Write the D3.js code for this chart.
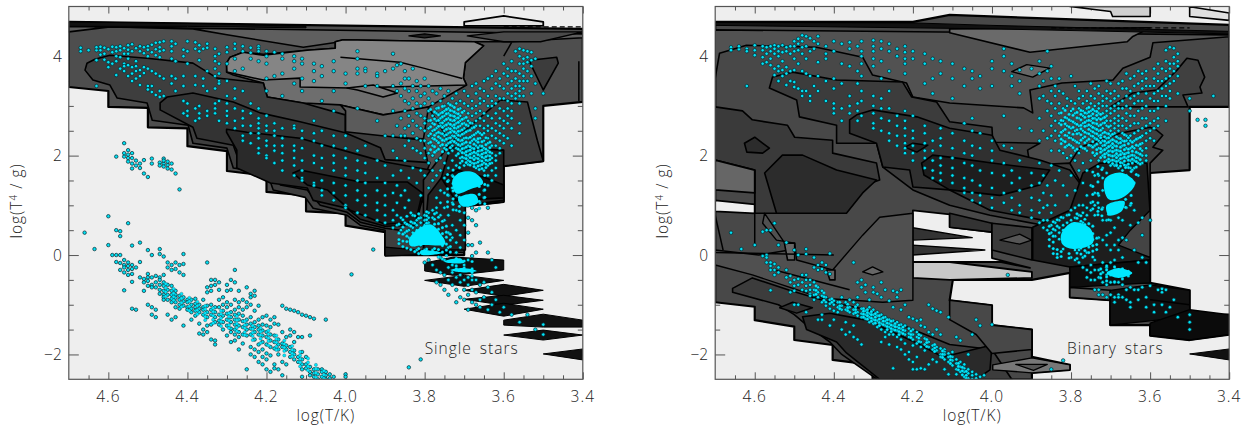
<!DOCTYPE html>
<html><head><meta charset="utf-8">
<script src="https://cdn.jsdelivr.net/npm/d3@7/dist/d3.min.js"></script>
<style>html,body{margin:0;background:#fff}svg{display:block}text{font-family:"Open Sans",sans-serif;font-weight:300;fill:#222}</style>
</head><body><svg id="c" width="1250" height="430"></svg>
<script>
const xTicks=[4.6,4.4,4.2,4.0,3.8,3.6,3.4];
const xMinor=[4.65,4.55,4.5,4.45,4.35,4.3,4.25,4.15,4.1,4.05,3.95,3.9,3.85,3.75,3.7,3.65,3.55,3.5,3.45];
const yTicks=[4,2,0,-2];
const yMinor=[4.5,3.5,3,2.5,1.5,1,0.5,-0.5,-1,-1.5];

/* left panel: filled density levels, [logT, log(T^4/g)] vertices, painted in order */
const singleLevels=[
{f:"#4e4e4e",w:2.2,p:[[4.7,4.69],[3.4,4.55],[3.4,3.08],[3.5,3],[3.5,1.89],[3.6,1.79],[3.6,1.07],[3.7,.98],[3.7,0],[3.9,0],[3.9,.46],[4,.59],[4,.84],[4.1,.88],[4.1,1.2],[4.2,1.27],[4.2,1.6],[4.3,1.69],[4.3,2.09],[4.4,2.19],[4.4,2.55],[4.5,2.57],[4.5,2.96],[4.6,2.98],[4.6,3.3],[4.7,3.38]]},
{f:"#e2e2e2",w:1.8,p:[[3.7,4.61],[3.7,4.69],[3.6,4.81],[3.5,4.69],[3.5,4.61]]},
{f:"#5f5f5f",w:1.6,p:[[4.7,4.6],[3.4,4.45],[3.4,4.37],[3.583,4.29],[3.684,4.29],[4.013,4.29],[4.107,4.18],[4.3,4.43],[4.386,4.55],[4.596,4.59],[4.7,4.49]]},
{f:"#6e6e6e",w:1.6,p:[[4.301,3.86],[4.292,3.98],[4.259,4.08],[4.208,4.04],[4.097,4.12],[4.026,4.16],[4.026,4.29],[4.006,4.33],[3.862,4.31],[3.674,4.29],[3.651,4.21],[3.697,3.87],[3.702,3.56],[3.694,3.42],[3.79,2.98],[3.85,2.86],[3.905,2.82],[4.013,3.02],[4.107,3.06],[4.198,3.18],[4.208,3.46],[4.284,3.62],[4.301,3.68]]},
{f:"#5b5b5b",w:1.6,p:[[4.013,3.02],[3.905,2.82],[3.79,2.98],[3.803,2.34],[4,2.41],[4,2.9]]},
{f:"#858585",w:1.6,p:[[4.301,3.86],[4.292,3.98],[4.259,4.08],[4.208,4.02],[4.097,4.12],[4.026,4.16],[4.026,4.29],[4.006,4.33],[3.862,4.31],[3.674,4.29],[3.651,4.21],[3.697,3.87],[3.702,3.56],[3.694,3.42],[3.99,3.36],[4.115,3.38],[4.115,3.56],[4.208,3.52],[4.3,3.68]]},
{f:"#777777",w:1.6,p:[[3.996,3.36],[3.93,3.42],[3.869,3.26],[3.905,3.18],[3.97,3.32]]},
{f:"#3e3e3e",w:1.6,p:[[4.659,3.72],[4.654,3.86],[4.634,3.94],[4.596,4.02],[4.502,3.96],[4.386,3.86],[4.325,3.56],[4.208,3.46],[4.198,3.18],[4.107,3.06],[4.001,2.82],[4.001,2.48],[3.803,2.31],[3.791,1.81],[3.803,1.51],[3.803,1.1],[3.71,.1],[3.9,.06],[3.9,.5],[3.963,.6],[3.996,.8],[4.082,.94],[4.102,1.16],[4.183,1.31],[4.198,1.65],[4.284,1.75],[4.3,2.15],[4.386,2.25],[4.398,2.61],[4.489,2.71],[4.502,3.06],[4.578,3.16],[4.596,3.42],[4.639,3.52]]},
{f:"#333333",w:1.6,p:[[4.469,3.06],[4.451,3.18],[4.386,3.26],[4.284,3.08],[4.216,2.86],[4.115,2.68],[4.001,2.46],[3.912,2.16],[3.9,1.92],[3.786,1.86],[3.803,1.51],[3.803,1.1],[3.862,.5],[3.9,.54],[3.963,.66],[3.996,.86],[4.064,1],[4.097,1.31],[4.165,1.41],[4.183,1.71],[4.266,1.81],[4.284,2.21],[4.376,2.35],[4.386,2.57],[4.469,2.92]]},
{f:"#2a2a2a",w:1.6,p:[[4.301,2.53],[4.249,2.47],[4.115,2.35],[3.963,2.01],[3.9,1.87],[3.786,1.71],[3.803,1.21],[3.823,.6],[3.9,.58],[3.963,.72],[3.996,.94],[4.082,1.1],[4.097,1.35],[4.19,1.45],[4.275,1.75],[4.275,2.11],[4.301,2.47]]},
{f:"#1c1c1c",w:1.6,p:[[4.133,1.65],[4.115,1.71],[3.963,1.47],[3.844,1.47],[3.806,1.25],[3.823,.66],[3.9,.62],[3.988,.9],[4.046,1.31],[4.097,1.41]]},
{f:"#3c3c3c",w:1.6,p:[[3.803,1.51],[3.735,2.25],[3.608,3.12],[3.54,3.08],[3.515,2.31],[3.5,1.89],[3.6,1.79],[3.6,1.07],[3.7,.98],[3.7,.05],[3.803,.1]]},
{f:"#3c3c3c",w:1.6,p:[[3.533,3.92],[3.466,3.98],[3.462,3.86],[3.5,3.32],[3.533,3.86]]},
{f:"#222222",w:1.6,p:[[3.758,1.55],[3.735,2.17],[3.6,2.11],[3.6,1.1],[3.697,1],[3.697,.1],[3.803,.1],[3.791,1.21]]},
{f:"#111111",w:1.6,p:[[3.758,1.55],[3.717,1.71],[3.651,1.57],[3.6,1.41],[3.6,1.15],[3.722,1.1]]},
{f:"#4a4a4a",w:1.4,p:[[3.692,4.41],[3.6,4.49],[3.4,4.49],[3.507,4.29],[3.6,4.29]]},
{f:"#222222",w:1.2,p:[[3.84,4.41],[3.8,4.45],[3.76,4.41],[3.8,4.37]]},
{f:"#111111",w:1,p:[[4.7,4.69],[4.4,4.66],[4.1,4.6],[4.1,4.57],[4.4,4.6],[4.7,4.6]]},
{f:"#1a1a1a",w:1.2,p:[[3.9,.16],[3.727,.04],[3.9,-.02]]},
{f:"#111111",w:1,p:[[3.8,-.26],[3.8,-.16],[3.727,-.04],[3.6,-.1],[3.6,-.3],[3.727,-.41],[3.8,-.32]]},
{f:"#111111",w:1,p:[[3.8,-.51],[3.7,-.41],[3.6,-.51],[3.7,-.63]]},
{f:"#111111",w:1,p:[[3.7,-.71],[3.6,-.59],[3.5,-.71],[3.6,-.83]]},
{f:"#111111",w:1,p:[[3.7,-.89],[3.6,-.81],[3.5,-.91],[3.6,-1.01]]},
{f:"#111111",w:1,p:[[3.7,-1.09],[3.6,-.97],[3.5,-1.09],[3.6,-1.23]]},
{f:"#111111",w:1,p:[[3.6,-1.31],[3.5,-1.19],[3.4,-1.31],[3.4,-1.45],[3.5,-1.45],[3.6,-1.41]]},
{f:"#111111",w:1,p:[[3.6,-1.61],[3.5,-1.51],[3.4,-1.61],[3.5,-1.71]]},
{f:"#111111",w:1,p:[[3.5,-1.99],[3.4,-1.89],[3.4,-2.11]]}
];
const singleLines=[
[[4.013,3.98],[3.862,3.88],[3.803,3.76],[3.705,3.55]],
[[3.6,4.0],[3.58,4.28]],
[[3.41,3.9],[3.41,3.1]],
[[3.735,2.25],[3.791,2.98]]
];
const singleDashed=[[3.6,4.59],[3.4,4.59]];
const singleBlobs=[
[[3.73,1.5],[3.71,1.66],[3.675,1.66],[3.652,1.45],[3.686,1.32],[3.72,1.24]],
[[3.715,1.14],[3.672,1.22],[3.665,1.05],[3.705,.98]],
[[3.84,.3],[3.825,.47],[3.786,.62],[3.757,.4],[3.748,.22],[3.803,.2],[3.835,.18]],
[[3.81,.09],[3.755,.04],[3.81,.01]],
[[3.75,-.13],[3.71,-.07],[3.7,-.15],[3.74,-.16]],
[[3.735,-.3],[3.702,-.26],[3.668,-.32],[3.702,-.35]]
];

/* right panel */
const binaryLevels=[
{f:"#484848",w:2.2,p:[[4.7,4.69],[4.2,4.69],[4.107,4.83],[3.4,4.63],[3.4,2.98],[3.5,2.98],[3.5,1.71],[3.6,1.65],[3.6,-.56],[3.5,-.71],[3.5,-1.24],[3.4,-1.2],[3.4,-1.6],[3.5,-1.71],[3.6,-1.62],[3.6,-1.41],[3.701,-1.41],[3.701,-.91],[3.803,-.85],[3.803,-.36],[3.899,-.5],[4.099,-.5],[4.107,-.91],[4,-1.01],[4,-1.41],[3.899,-1.5],[3.899,-2.05],[3.803,-2.21],[3.803,-2.31],[3.899,-2.37],[3.899,-2.5],[4.302,-2.5],[4.302,-2.21],[4.403,-2.11],[4.403,-1.81],[4.5,-1.71],[4.5,-1.44],[4.6,-1.31],[4.6,-1.04],[4.7,-.95]]},
{f:"#d0d0d0",w:1.6,p:[[3.803,5],[3.7,4.9],[3.695,4.8],[3.6,4.8],[3.6,5]]},
{f:"#e0e0e0",w:1.6,p:[[3.503,5],[3.4,4.87],[3.4,4.72],[3.5,4.8],[3.5,5]]},
{f:"#eeeeee",w:1.8,p:[[4.2,.9],[4.107,.82],[4.107,.56],[4,.46],[4,-.06],[3.904,-.26],[3.98,-.14],[4.2,-.14]]},
{f:"#eeeeee",w:1.8,p:[[4.7,1.1],[4.6,1.02],[4.6,.84],[4.7,.88]]},
{f:"#c8c8c8",w:1.8,p:[[4.2,-.14],[4.107,-.14],[3.899,-.34],[3.899,-.46],[4.107,-.5],[4.2,-.46]]},
{f:"#333333",w:1.4,p:[[4.2,.2],[4.018,.1],[4.2,0]]},
{f:"#333333",w:1.4,p:[[4.2,.55],[4.05,.35],[4.2,.3]]},
{f:"#525252",w:1.6,p:[[4.7,4.53],[3.4,4.43],[3.4,4.39],[3.593,4.27],[3.6,3.98],[3.669,3.76],[3.694,3.52],[3.823,3.46],[3.904,3.32],[3.897,2.86],[3.92,2.96],[4.107,3.06],[4.2,3.18],[4.216,3.46],[4.302,3.62],[4.327,3.98],[4.444,4.18],[4.621,4.22],[4.689,4.06],[4.7,3.56]]},
{f:"#6a6a6a",w:1.6,p:[[4.107,4.47],[3.904,4.08],[3.658,4.29],[3.645,4.39],[3.6,4.57],[4.107,4.55]]},
{f:"#666666",w:1.4,p:[[3.95,3.69],[3.912,3.83],[3.854,3.76],[3.897,3.58]]},
{f:"#3a3a3a",w:1.6,p:[[4.7,2.98],[4.631,2.9],[4.606,2.72],[4.517,2.61],[4.499,2.37],[4.403,2.31],[4.403,2.05],[4.292,1.85],[4.284,1.51],[4.335,1.37],[4.378,.84],[4.6,.84],[4.6,1.71],[4.7,1.91],[4.7,2.4]]},
{f:"#666666",w:1.8,p:[[4.7,1.91],[4.6,1.71],[4.6,1.25],[4.7,1.31]]},
{f:"#2c2c2c",w:1.6,p:[[4.575,1.65],[4.53,2.01],[4.479,2.01],[4.393,1.71],[4.292,1.51],[4.327,1.25],[4.368,.84],[4.545,.84]]},
{f:"#2c2c2c",w:1.6,p:[[4.626,2.25],[4.6,2.37],[4.563,2.15],[4.58,2.05],[4.62,2.07]]},
{f:"#505050",w:1.4,p:[[4.575,.84],[4.58,.64],[4.545,.3],[4.499,.24],[4.494,-.1],[4.403,-.3],[4.327,.4],[4.284,.76],[4.2,.84],[4.2,-.91],[4.276,-.95],[4.428,-.87],[4.606,-.4],[4.7,-.2],[4.7,.1],[4.59,0],[4.512,.1]]},
{f:"#3c3c3c",w:1.6,p:[[4.555,3.58],[4.504,3.68],[4.393,3.52],[4.226,3.48],[4.203,3.18],[4.14,3.08],[4.107,2.68],[4,2.57],[3.998,2.27],[3.879,2.25],[3.91,2.11],[3.904,1.81],[3.803,1.85],[3.765,1.31],[3.803,.5],[4.005,.8],[4.107,1],[4.2,1.31],[4.276,1.77],[4.292,2.25],[4.393,2.25],[4.393,2.61],[4.487,2.78],[4.494,3.12],[4.563,3.36]]},
{f:"#303030",w:1.6,p:[[4.36,2.72],[4.342,2.82],[4.302,2.92],[4.19,2.78],[4.107,2.55],[4,2.41],[3.98,2.11],[3.879,1.91],[3.803,1.71],[3.765,1.31],[3.803,.6],[4.005,.9],[4.107,1.31],[4.2,1.37],[4.208,1.71],[4.276,1.77],[4.292,2.25],[4.36,2.45]]},
{f:"#1e1e1e",w:1.6,p:[[4.178,1.85],[4.15,2.01],[4.107,1.97],[4,1.85],[3.854,1.71],[3.879,1.41],[3.98,1.2],[4.107,1.31],[4.172,1.61]]},
{f:"#222222",w:1.4,p:[[4.22,2.17],[4.2,2.25],[4.162,2.21],[4.19,2.07]]},
{f:"#3e3e3e",w:1.6,p:[[3.803,1.85],[3.777,2.17],[3.676,2.45],[3.6,2.57],[3.583,2.51],[3.568,2.41],[3.593,2.17],[3.568,2.11],[3.6,1.85],[3.6,-.56],[3.7,-.56],[3.803,-.3],[3.803,.5],[3.765,1.31]]},
{f:"#404040",w:1.6,p:[[3.701,2.98],[3.644,3.26],[3.583,3.32],[3.532,3.72],[3.507,3.96],[3.479,3.92],[3.462,3.58],[3.474,3.38],[3.469,3.26],[3.517,3.22],[3.504,2.98]]},
{f:"#1e1e1e",w:1.6,p:[[3.77,1.65],[3.727,1.85],[3.608,1.85],[3.6,.84],[3.6,-.1],[3.803,-.24],[3.897,-.1],[3.897,.56],[3.803,.9]]},
{f:"#444444",w:1.4,p:[[3.6,.9],[3.6,-.05],[3.68,.2],[3.65,.5]]},
{f:"#333333",w:1.6,p:[[4.107,.84],[4,.64],[4,.46],[4.107,.56]]},
{f:"#3a3a3a",w:1.6,p:[[4,.64],[3.899,.55],[3.899,-.1],[4,.1]]},
{f:"#555555",w:1.2,p:[[3.98,.3],[3.93,.42],[3.9,.3],[3.93,.22]]},
{f:"#0e0e0e",w:1.4,p:[[3.803,-.24],[3.6,-.1],[3.6,-.56],[3.803,-.65]]},
{f:"#555555",w:1.6,p:[[3.803,-.65],[3.701,-.71],[3.701,-.91],[3.803,-.85]]},
{f:"#111111",w:1.4,p:[[3.701,-.71],[3.6,-.6],[3.5,-.71],[3.5,-1.24],[3.701,-1.41]]},
{f:"#0b0b0b",w:1.4,p:[[3.6,-1.37],[3.5,-1.1],[3.4,-1.2],[3.4,-1.6],[3.5,-1.71],[3.6,-1.62]]},
{f:"#3c3c3c",w:1.6,p:[[4.656,-.67],[4.606,-.46],[4.512,-.71],[4.428,-.91],[4.317,-1.1],[4.2,-1.5],[4.107,-1.8],[4,-1.9],[3.95,-2.5],[4.29,-2.5],[4.38,-2],[4.41,-1.75],[4.47,-1.4],[4.5,-1.2],[4.54,-1],[4.656,-.75]]},
{f:"#2a2a2a",w:1.6,p:[[4.479,-1.24],[4.41,-1.17],[4.317,-1.31],[4.19,-1.77],[4.124,-2.05],[4,-1.81],[4.005,-2.31],[4.04,-2.5],[4.284,-2.5],[4.368,-1.97],[4.393,-1.75],[4.469,-1.5]]},
{f:"#303030",w:1.4,p:[[4.537,-1.06],[4.504,-.95],[4.454,-1.06],[4.494,-1.17]]},
{f:"#484848",w:1.6,p:[[4.107,-.91],[4,-1.01],[4,-1.41],[3.899,-1.5],[3.899,-1.9],[4,-1.98],[4.04,-1.6],[4.107,-1.3]]},
{f:"#777777",w:1.4,p:[[3.998,-2.21],[3.899,-2.07],[3.803,-2.21],[3.803,-2.31],[3.899,-2.37],[3.998,-2.31]]},
{f:"#555555",w:1.2,p:[[3.94,-2.2],[3.86,-2.2],[3.895,-2.32]]},
{f:"#666666",w:1.6,p:[[4.525,.24],[4.499,.24],[4.499,-.1],[4.517,-.1]]},
{f:"#666666",w:1.6,p:[[4.418,-.3],[4.397,-.3],[4.397,-.5],[4.41,-.5]]},
{f:"#666666",w:1.4,p:[[4.327,-.34],[4.302,-.24],[4.276,-.34],[4.302,-.4]]},
{f:"#111111",w:1,p:[[4.7,4.68],[4.2,4.67],[4,4.62],[3.4,4.5],[3.4,4.45],[4,4.55],[4.7,4.62]]},
{f:"#111111",w:1,p:[[3.5,-1.99],[3.4,-1.89],[3.4,-2.11]]}
];
const binaryLines=[
[[4.6,1.71],[4.6,.2]],
[[4.7,.8],[4.68,.1]],
[[4.7,.05],[4.4,.0]],
[[4.55,-.3],[4.36,-.7]],
[[3.6,-.9],[3.5,-1]]
];
const binaryDashed=[[3.85,4.57],[3.5,4.57]];
const binaryBlobs=[
[[3.715,1.52],[3.675,1.66],[3.638,1.45],[3.665,1.18],[3.705,1.12]],
[[3.71,1.0],[3.665,1.08],[3.672,.88],[3.705,.8]],
[[3.825,.42],[3.795,.66],[3.75,.52],[3.745,.24],[3.79,.12],[3.82,.2]],
[[3.71,-.36],[3.68,-.26],[3.645,-.36],[3.68,-.46]]
];

/* stars as columns: logT, then the log(T^4/g) values seen at that logT */
const singleLoop=[[4.58,[1.98]],[4.56,[2.25,1.98,2.05]],[4.55,[2.11,2.02,1.95,1.88]],[4.54,[2.05,1.84,1.74,1.95]],[4.53,[1.8,1.9]],[4.52,[1.84,1.75]],[4.51,[1.91,1.64]],[4.5,[1.57]],[4.49,[1.94,1.84]],[4.47,[1.86,1.8]],[4.46,[1.94,1.84,1.78,1.9]],[4.45,[1.81,1.88,1.74]],[4.44,[1.84,1.72]],[4.43,[1.64]],[4.42,[1.32]]];
const singleUpper=[[4.67,[4.17,4.1]],[4.65,[4.12]],[4.63,[4.12,3.92,4.18,3.4]],[4.62,[4.19,4.12,4.03]],[4.61,[4.17,4.05,3.93]],[4.6,[4.14,3.88,3.78]],[4.59,[4.19,4.08,3.85]],[4.58,[4.18,4.1,4,3.9,3.62]],[4.57,[4.2,4.12,3.98,3.75]],[4.56,[4.16,4.05,3.85,3.8,3.7]],[4.55,[4.22,4.13,4.05,3.95,3.82,3.6]],[4.54,[4.24,4.1,3.78,3.65,3.5]],[4.53,[4.16,3.9,3.8,3.7,3.55]],[4.52,[4.2,4.1,3.72,3.6,3.42]],[4.51,[4.18,4.06,3.78,3.66]],[4.5,[4.2,4.13,4,3.75,3.4,3.33]],[4.49,[4.23,4.08,3.7,3.4,3.28]],[4.48,[4.27,4.14,4.02,3.65,3.22]],[4.47,[4.28,4.18,4.1,3.98,3.6,3.3,3.18]],[4.46,[4.3,4.12,3.55,3.2]],[4.44,[4.3,4.2,4.1,3.95,3.6,3.45]],[4.43,[4.25,3.9,3.55,3.3]],[4.41,[4.13,4,3.6,3.4,3.1,2.85]],[4.4,[4.3,4.1,3.85,3.05,2.9,2.8]],[4.38,[4.28,4.15,3.6,3.42,2.95,2.7]],[4.37,[4.22,4.1,3.92,3,2.85,2.75]],[4.36,[4.15,3.55,3.4]],[4.35,[4.25,4.17,3.7,3.3,2.9,2.8]],[4.33,[4.15,4,3.9,3.75,3.6,3.35,3.05,2.95,2.85]],[4.32,[4.05,3.85,3.65,3.5,3.45,3.1,2.7]],[4.3,[4.18,4.08,3.85,3.5,3.2,3.05,2.9,2.8,2.65]],[4.28,[4.25,4.15,3.95,3.7,3.35,3.15,2.95,2.7,2.55]],[4.26,[4.2,4.1,3.75,3.3,2.9,2.75,2.6,2.4,2.3]],[4.24,[4.17,4.07,3.95,3.05,2.85,2.6,2.45,2.25]],[4.22,[4.2,4.15,4.1,3.9,2.95,2.75,2.65,2.55,2.45,2.35,2.15,2.05]],[4.2,[4.1,4,3.85,3.55,3.3,2.8,2.6,2.5,2.3,2.2,2,1.95]],[4.18,[4.08,3.6,2.65,2.5,2.4,2.2,2.1,1.85]],[4.16,[4.05,3.95,3.65,3.2,2.55,2.35,2.2,2.05,1.9,1.7]],[4.13,[4,3.9,3.75,3.45,2.6,2.55,2.2,2.1,1.95,1.8,1.6]],[4.11,[3.95,3.85,3.55,3.3,2.5,2.35,2.15,1.9,1.7,1.55,1.5]],[4.08,[3.85,3.7,3.5,2.7,2.45,2.3,2,1.85,1.45,1.4]],[4.06,[3.8,3.6,3.1,2.5,2.2,1.95,1.75,1.5,1.3,1.2]],[4.03,[3.9,3.7,3.3,2.9,2.4,2.2,2,1.85,1.7,1.45,1.25,1.1]],[4,[3.65,3.45,2.4,2.15,1.95,1.75,1.6,1.4,1.2,1,.95]],[3.97,[4.1,3.95,3.75,3.65,2.95,2.1,1.9,1.7,1.5,1.3,1.1,.85]],[3.95,[3.75,3.7,3.4,2.2,1.85,1.65,1.45,1.2,1,.8]],[3.92,[3.65,3.6,3.4,2.7,1.9,1.55,1.3,1.05,.9,.7]],[3.9,[3.7,2.4,1.8,1.45,1.2,1,.8,.65]]];
const singleGiants=[[3.88,[4.05,3.75,3.4,2.9,2.4,2.1,1.6,1.25,.9,.7,.55]],[3.87,[3.82,3.3,2.6,1.95,1.4,1.05,.8,.6]],[3.86,[3.85,3.45,3.2,2.75,2.4,1.7,1.2,.75,.5]],[3.85,[3.7,3.55,3.35,3.1,2.9,2.55,2.4,2.2,1.9,1.3,.95,.65,.45]],[3.84,[3.55,3.3,3.05,2.8,2.6,2.3,1.55,1.1,.6,.5,.35]],[3.83,[3.75,3.4,3.15,2.95,2.7,2.45,2.15,1.75,.8,.65,.55,.45,.3]],[3.82,[3.5,3.3,3.05,2.85,2.6,2.35,2.1,1.45,.7,.6,.5,.4,.25,.1]],[3.81,[3.4,3.2,3,2.8,2.55,2.3,2.05,1.7,1.2,.75,.65,.55,.45,.35,.2]],[3.8,[3.55,3.25,3.05,2.75,2.65,2.5,2.3,2.15,1.95,1.6,.8,.7,.6,.5,.4,.1,-.15]],[3.79,[3.4,3.15,2.9,2.7,2.55,2.4,2.25,2.05,1.85,1.35,.85,.75,.65,.05,-.1]],[3.78,[3.3,3.05,2.8,2.65,2.5,2.35,2.2,2,1.7,1.5,.9,.75,.1,-.2]],[3.77,[3.25,2.95,2.85,2.7,2.55,2.45,2.3,2.1,1.9,1.6,1.15,.95,.85,.05,-.3,-.55]],[3.76,[3.35,3.1,2.85,2.75,2.65,2.6,2.45,2.35,2.2,1.95,1.7,1.3,1.05,.8,-.05,-.35,-.6]],[3.75,[3.2,3,2.9,2.8,2.7,2.6,2.5,2.4,2.3,2.15,1.85,1.55,1.25,.95,.7,-.1,-.4,-.7]],[3.74,[3.3,3.05,2.95,2.85,2.75,2.65,2.55,2.45,2.35,2.25,2.05,1.75,1.5,1.2,.8,.45,.15,-.25,-.5,-.8]],[3.73,[3.15,3,2.9,2.8,2.7,2.6,2.5,2.4,2.3,2.2,2.1,1.9,1.6,1.35,1.05,.6,.35,-.2,-.35,-.6]],[3.72,[3.25,3.05,2.85,2.75,2.65,2.55,2.45,2.35,2.25,2.15,2,1.8,1.5,1.2,.9,.5,.25,.05,-.3,-.45,-.7,-.95]],[3.71,[3.1,2.95,2.8,2.7,2.6,2.5,2.4,2.3,2.2,2.1,1.95,1.85,1.4,1.1,.7,.4,.15,-.1,-.4,-.55,-.85]],[3.7,[3.3,3.05,2.9,2.75,2.65,2.55,2.45,2.35,2.25,2.15,2.05,1.95,1.8,1.1,.85,.6,.3,-.2,-.5,-.7,-.9]],[3.69,[3.2,3,2.85,2.7,2.6,2.5,2.35,2.2,2.1,2,1.9,1.82,1,.75,.45,.2,-.1,-.45,-.6,-.8,-1.1]],[3.68,[3.4,3.1,2.95,2.8,2.65,2.55,2.4,2.3,2.15,2.05,1.95,1.85,.95,.7,.2,-.02,-.5,-.7,-.95]],[3.67,[3.45,3.25,3,2.85,2.7,2.6,2.45,2.3,2.2,2.05,1.95,1.85,1.75,.9,.6,.05,-.5,-.75,-1]],[3.66,[3.35,3.15,3.05,2.9,2.75,2.6,2.45,2.35,2.2,2.1,2,1.9,1.8,1.05,.25,-.6,-.9,-1.05]],[3.65,[3.5,3.3,3.1,2.85,2.7,2.55,2.45,2.3,2.15,2.05,1.95,1.85,1.7,1.3,1.15,-.55,-.85]],[3.64,[3.55,3.2,3,2.8,2.6,2.5,2.35,2.25,2.1,2,1.9,1.8,1.6,1.4,.95,.05,-.65,-1.1]],[3.63,[3.6,3.35,3.1,3,2.75,2.55,2.4,2.2,2.05,1.95,1.85,1.7,1.5,-.1,-.75,-1]],[3.62,[3.7,3.45,3.2,3.05,2.85,2.65,2.5,2.35,2.2,2,1.9,1.75,1.6,-.25,-.9]],[3.61,[3.55,3.4,3.15,2.95,2.75,2.6,2.45,2.3,2.15,2.05,-1.15]],[3.6,[3.85,3.65,3.35,3.15,2.9,2.7,2.55,2.4,2.25,-1.05]],[3.59,[3.75,3.6,3.45,3.25,3.1,2.95,2.8,2.65,2.35]],[3.58,[3.9,3.7,3.5,3.35,3.2,3.05,2.9,2.75,2.55,2.2,-1.2]],[3.57,[4.1,3.7,3.55,3.4,3.25,3.15]],[3.56,[4.15,4,3.85,3.65,3.5,3.4,3.3,3.2,3.05,2.65,2.45,-1.35]],[3.55,[4.12,3.95,3.85,3.75,3.6,3.5,3.35,3.2]],[3.54,[4.1,3.98,3.88,3.7,3.5,-1.2]],[3.53,[4.08,3.92,3.8,3.6,3.25]],[3.52,[3.95,3.45,2.95,2.75,-1.5]],[3.5,[3.25,-1.4,-1.6]]];
const singleMain=[[4.66,[.45]],[4.635,[.12]],[4.6,[.78,.2]],[4.59,[0]],[4.58,[.5,-.14,0]],[4.57,[.48,.38,0,-.16,-.3]],[4.56,[-.1,-.2,-.25,-.35,-.71]],[4.55,[.64,-.15,-.22,-.3,-.4]],[4.54,[.19,-.2,-.28,-.38,-.54,-1.08]],[4.53,[-.25,-1.1]],[4.52,[.25,-.14,-.45]],[4.51,[-.48,-.55,-.72]],[4.5,[.1,-.38,-.45,-.52,-.62,-1]],[4.49,[0,-.45,-.6,-.65,-1.05,-1.2]],[4.48,[-.42,-.55,-.65,-1.1,-1.25]],[4.47,[.12,.02,-.45,-.5,-.6,-.7,-.78]],[4.46,[-.03,-.4,-.55,-.62,-.72,-.8,-.85,-.9]],[4.45,[-.15,-.25,-.6,-.7,-.8,-.9,-1.2]],[4.44,[-.2,-.3,-.62,-.72,-.8,-.88,-.95,-1.3]],[4.43,[-.15,-.28,-.72,-.8,-.86,-.95,-1.05,-1.25]],[4.42,[-.2,-.35,-.82,-.9,-1,-1.08]],[4.41,[.02,-.18,-.4,-.85,-.93,-1.02,-1.42]],[4.4,[-.9,-.95,-1.05,-1.1]],[4.39,[-.9,-1,-1.08,-1.15,-1.3]],[4.38,[-.88,-.98,-1.05,-1.12,-1.22]],[4.37,[-1,-1.08,-1.15,-1.38,-1.58]],[4.36,[-.9,-1.05,-1.1,-1.2,-1.5,-1.6]],[4.35,[-.15,-.65,-.75,-1.02,-1.15,-1.25,-1.42,-1.55]],[4.34,[-.5,-.62,-.72,-1,-1.1,-1.2,-1.4,-1.7]],[4.33,[-.5,-.6,-1.05,-1.15,-1.25,-1.35,-1.72,-1.8]],[4.32,[-.55,-.7,-.9,-1.05,-1.2,-1.32,-1.4]],[4.31,[-.85,-1,-1.12,-1.22,-1.35,-1.5]],[4.3,[-.6,-.72,-.95,-1.05,-1.18,-1.3,-1.42,-1.62]],[4.29,[-.5,-.7,-1,-1.15,-1.25,-1.35,-1.48,-1.55,-1.75]],[4.28,[-.3,-.55,-.9,-1.1,-1.2,-1.3,-1.4,-1.5,-1.6,-1.72]],[4.27,[-.72,-.95,-1.05,-1.18,-1.3,-1.42,-1.55,-1.65,-1.9]],[4.26,[-.9,-1.1,-1.22,-1.33,-1.45,-1.6,-1.78]],[4.25,[-.65,-.95,-1.05,-1.3,-1.4,-1.5,-1.62,-2.3]],[4.24,[-.78,-.85,-1,-1.25,-1.38,-1.48,-1.6,-1.85,-2]],[4.23,[-.72,-.82,-1.12,-1.35,-1.45,-1.55,-1.7,-1.9,-2.05]],[4.22,[-1.02,-1.3,-1.42,-1.5,-1.6,-1.8,-1.95,-2.15]],[4.21,[-1.25,-1.4,-1.52,-1.62,-1.75,-1.9,-2.05,-2.2]],[4.2,[-1.22,-1.42,-1.55,-1.65,-1.8,-1.98,-2.1,-2.3]],[4.19,[-1.3,-1.45,-1.6,-1.72,-1.85,-2.02,-2.35]],[4.18,[-1.25,-1.38,-1.62,-1.75,-1.88,-2.2,-2.28]],[4.17,[-1.4,-1.7,-1.8,-1.9,-2,-2.3]],[4.16,[-1.02,-1.55,-1.78,-1.85,-2.15,-2.42]],[4.15,[-1.08,-1.65,-1.82,-1.9,-2.2]],[4.14,[-1.1,-1.5,-1.62,-1.85,-1.95,-2.05]],[4.13,[-1.12,-1.55,-1.75,-1.92,-2,-2.1]],[4.12,[-1.15,-1.65,-2.05,-2.15]],[4.11,[-1.2,-1.65,-1.95,-2.1,-2.2,-2.3,-2.45]],[4.1,[-1.22,-2.05,-2.2,-2.28]],[4.09,[-1.25,-1.62,-2.25,-2.35,-2.42]],[4.08,[-1.28,-2.3,-2.38,-2.45]],[4.07,[-2.3,-2.4,-2.5]],[4.06,[-2.3,-2.35,-2.45]],[4.05,[-1.3,-2.35,-2.42,-2.5]],[4.04,[-2.4,-2.48]],[4.03,[-2.45]],[4,[-2.4,-2.45]],[3.985,[-.39]],[3.93,[.11]],[3.84,[-2.26]],[3.81,[-2.1]]];
const singleDense=[[3.785,[2.93,2.71,2.58,2.44,2.27,2.12]],[3.775,[2.88,2.74,2.63,2.52,2.41,2.33,2.18,2.07]],[3.765,[2.96,2.82,2.71,2.59,2.47,2.38,2.26,2.13]],[3.755,[2.99,2.87,2.78,2.66,2.57,2.44,2.31,2.22,2.08]],[3.745,[2.93,2.84,2.73,2.62,2.53,2.42,2.33,2.21,2.12]],[3.735,[3.02,2.91,2.81,2.72,2.63,2.54,2.47,2.36,2.27,2.16]],[3.725,[2.97,2.88,2.79,2.71,2.62,2.56,2.48,2.39,2.28]],[3.715,[2.93,2.84,2.76,2.67,2.58,2.49,2.41,2.32,2.22,2.13,2.04]],[3.705,[2.87,2.73,2.64,2.52,2.43,2.31,2.23,2.14,2.06,1.97,1.89]],[3.695,[2.77,2.62,2.48,2.36,2.27,2.17,2.08,2.01,1.94,1.86]],[3.685,[2.66,2.51,2.37,2.26,2.18,2.11,2.03,1.96,1.88,1.81]],[3.675,[2.57,2.42,2.33,2.23,2.14,2.07,1.99,1.92,1.84,1.78]],[3.665,[2.48,2.34,2.27,2.16,2.09,2.02,1.94,1.87,1.79]],[3.655,[2.42,2.28,2.19,2.11,2.03,1.97,1.89,1.82,1.74]],[3.645,[2.36,2.22,2.13,2.06,1.98,1.91,1.83,1.76]],[3.635,[2.27,2.16,2.07,1.99,1.92,1.84]],[3.742,[1.62,1.48,1.33,1.21,1.07,.97]],[3.728,[1.71,1.58,1.44,1.29,1.13,1.02,.91]],[3.712,[1.76,1.62,1.38,1.16,.98,.88]],[3.662,[1.72,1.38,1.22,1.08,.94]],[3.648,[1.6,1.42,1.31,1.16,1.03]],[3.865,[.62,.44,.31,.23]],[3.855,[.71,.56,.42,.28,.17]],[3.845,[.78,.62,.48,.38,.27,.14]],[3.835,[.85,.67,.58,.33,.22,.11]],[3.825,[.79,.64,.31,.2,.07]],[3.815,[.83,.74,.13,.03]],[3.795,[.87,.79,.71,.64,.12]],[3.775,[.83,.72,.62,.44,.28,.13]],[3.765,[.76,.63,.52,.38,.24,.11,-.04]],[3.755,[.68,.55,.43,.31,.19,.06,-.08]],[3.745,[.58,.46,.36,.22,.1,-.01]],[3.735,[.42,.3,.17,.06,-.12]],[3.72,[-.07,-.22,-.28]],[3.7,[-.12,-.26,-.31]],[3.68,[-.13,-.28,-.42,-.35]],[4.455,[-.58,-.66,-.74,-.83]],[4.435,[-.68,-.77,-.84,-.91]],[4.415,[-.78,-.87,-.96,-1.04]],[4.395,[-.86,-.93,-1.03,-1.12]],[4.375,[-.94,-1.02,-1.11,-1.19]],[4.355,[-1.02,-1.09,-1.17,-1.24,-1.31]],[4.335,[-1.07,-1.14,-1.22,-1.3,-1.37]],[4.315,[-1.12,-1.19,-1.27,-1.34,-1.43]],[4.295,[-1.17,-1.24,-1.32,-1.41,-1.47]],[4.275,[-1.23,-1.31,-1.38,-1.46,-1.53]],[4.255,[-1.33,-1.41,-1.47,-1.55,-1.61]],[4.235,[-1.42,-1.49,-1.56,-1.63,-1.71]],[4.215,[-1.47,-1.54,-1.61,-1.68,-1.77]],[4.195,[-1.52,-1.59,-1.67,-1.73,-1.82]],[4.175,[-1.62,-1.69,-1.76,-1.84,-1.91]],[4.155,[-1.72,-1.79,-1.86,-1.93,-2.02]],[4.135,[-1.83,-1.91,-1.98,-2.04]],[4.115,[-1.95,-2.02,-2.09,-2.16,-2.24]],[4.095,[-2.08,-2.16,-2.24,-2.32]],[4.075,[-2.21,-2.29,-2.37,-2.46]],[4.055,[-2.33,-2.41,-2.48]]];

const binaryUpper=[[4.66,[4.18,4.12]],[4.64,[4.14,4.2]],[4.62,[4.15,3.4,4.1]],[4.6,[4.22,4.12,4.02]],[4.58,[4.2,4.12,3.98,3.85]],[4.57,[4.18,4.05,3.88]],[4.56,[4.2,4.1,3.95,3.82]],[4.55,[4.22,4.15,4.05,3.75,3.62]],[4.54,[4.2,4.1,4,3.8,3.7,3.5]],[4.53,[4.22,4.08,3.9,3.72,3.6]],[4.52,[4.18,4.1,3.78,3.65,3.42]],[4.51,[4.2,4.05,3.7,3.5]],[4.5,[4.3,4.2,4.1,3.95,3.72,3.48,3.38]],[4.49,[4.35,4.25,4.12,3.85,3.35]],[4.48,[4.42,4.3,4.18,4.05,3.7,3.3,3.2]],[4.47,[4.4,4.2,3.95,3.65,3.3]],[4.46,[4.36,4.1,3.6,3.2,3.1]],[4.45,[4.3,4.15,3.4]],[4.44,[4.4,4.25,3.88,3.6,3.3]],[4.42,[4.2,4.05,3.95,3.5,3.1]],[4.4,[4.3,4.1,3.55,3.35,3.05,2.95,2.85]],[4.38,[4.25,3.85,3.45,2.95,2.7]],[4.36,[4.28,4.15,3.8,3.2,3,2.85]],[4.34,[4.2,3.7,3.45,3.05,2.9,2.7]],[4.33,[4.3,4.1,4,3.85,3.6,3.3,3.1,2.8]],[4.3,[4.32,4.2,4.1,3.95,3.8,3.2,3,2.85,2.65,2.55]],[4.28,[4.3,4.15,3.9,3.55,3.15,2.95,2.75,2.5]],[4.26,[4.25,4.1,3.7,3.3,2.95,2.7,2.45,2.3]],[4.24,[4.15,4,2.8,2.6,2.4,2.2]],[4.22,[4.2,4.08,3.95,3.85,3.65,2.9,2.7,2.55,2.4,2.25,2.15,2.05]],[4.2,[4.1,3.95,2.8,2.5,2.35,2.2,2.05,1.9]],[4.17,[4.05,3.85,3.45,2.6,2.45,2.25,2.1,1.95,1.75]],[4.15,[3.95,3.55,3.25,2.3,2.1,1.9,1.7,1.55]],[4.13,[3.9,3.65,2.55,2.35,2.2,1.95,1.8,1.65,1.5]],[4.1,[3.85,3.55,3.15,2.45,2.15,1.95,1.75,1.6,1.45]],[4.07,[3.75,3.4,2.65,2.3,2.05,1.85,1.55,1.35,1.25]],[4.05,[3.7,3.55,2.75,2.5,2.2,2,1.8,1.5,1.25,1.1]],[4.03,[3.6,3.35,2.45,2.15,1.7,1.4,1.2,1.05]],[4,[3.9,3.75,3.4,2.3,2.1,1.9,1.65,1.35,1.15,.95]],[3.97,[4.15,4,3.7,2.8,2.2,1.85,1.6,1.25,1.05]],[3.95,[3.85,3.6,3.4,2.15,1.7,1.45,1.15,.9]],[3.93,[3.72,3.5,3.25,2.55,1.9,1.55,1.3,1,.85]],[3.9,[3.75,2.5,1.65,1.4,1.15,.9,.75]]];
const binaryGiants=[[3.88,[3.9,3.65,3.4,3.15,2.75,2.3,1.85,1.45,1.1,.85,.65]],[3.87,[3.5,3.2,2.5,1.6,1.25,.95,.7,.55]],[3.86,[4.1,3.7,3.1,2.9,2.35,1.4,1,.7,.5]],[3.85,[3.8,3.55,3.3,3.05,2.8,2.6,2.4,2.1,1.8,1.2,.85,.6,.45]],[3.84,[3.4,3.2,2.95,2.7,2.5,2.3,1.5,1,.65,.5,.38]],[3.83,[3.55,3.3,3.05,2.85,2.65,2.4,2.1,1.7,.7,.55,.45,.32]],[3.82,[3.25,2.95,2.7,2.5,2.3,2.05,1.4,.75,.6,.5,.38,.25,.12]],[3.81,[3.15,3,2.75,2.6,2.4,2.2,1.95,1.2,.8,.65,.5,.35,.2]],[3.8,[3.6,3.1,2.9,2.7,2.55,2.35,2.2,2,1.6,.9,.7,.55,.4,.2,-.05]],[3.79,[3.4,3.05,2.85,2.65,2.5,2.3,2.1,1.9,1.3,.95,.75,.6,.45,.1,-.1]],[3.78,[3.3,3.15,2.95,2.75,2.6,2.45,2.25,2.05,1.7,1,.8,.6,.1,-.15]],[3.77,[3.2,3.05,2.9,2.8,2.65,2.5,2.35,2.15,1.85,1.45,1,.85,.65,-.05,-.25]],[3.76,[3.3,3.1,2.95,2.85,2.7,2.6,2.45,2.3,2.1,1.7,1.2,.95,.8,.05,-.3,-.45]],[3.75,[3.45,3.2,3.05,2.9,2.8,2.7,2.6,2.5,2.4,2.2,1.9,1.4,1.05,.9,-.2,-.35,-.5]],[3.74,[3.35,3.15,3,2.9,2.75,2.65,2.55,2.45,2.35,2.2,2,1.6,1.25,1,.8,-.1,-.3,-.5,-.7]],[3.73,[3.4,3.25,3.05,2.95,2.85,2.75,2.6,2.5,2.4,2.3,2.15,1.9,1.6,1.2,.95,.35,-.3,-.45,-.7,-.8]],[3.72,[3.2,3.1,3,2.85,2.75,2.65,2.55,2.45,2.3,2.2,2.1,2,1.75,1.55,1.3,.95,.7,.3,-.15,-.35,-.55,-.8]],[3.71,[3.5,3.3,3.15,3,2.9,2.8,2.7,2.6,2.45,2.35,2.25,2.15,2.05,1.9,1.65,.7,.4,.2,-.25,-.4,-.6,-.85]],[3.7,[3.45,3.25,3.1,2.95,2.85,2.7,2.6,2.5,2.4,2.3,2.2,2.1,2,1.9,1.8,.7,.45,.1,-.15,-.4,-.55,-.8]],[3.69,[3.3,3.15,3,2.9,2.75,2.65,2.55,2.45,2.3,2.2,2.1,2,1.9,1.8,.9,.55,.2,-.1,-.55,-.85,-.95]],[3.68,[3.45,3.2,3.05,2.95,2.8,2.7,2.6,2.5,2.35,2.25,2.1,2,1.9,1.75,.75,.3,.1,-.55,-.8,-.85]],[3.67,[3.5,3.35,3.1,2.95,2.75,2.6,2.45,2.3,2.2,2.05,1.95,1.85,1.7,.7,.35,-.05,-.6,-.85]],[3.66,[3.65,3.35,3.2,3,2.85,2.7,2.55,2.4,2.3,2.15,2.05,1.95,1.8,1.6,.95,.3,-.7,-.9]],[3.65,[3.55,3.3,3.15,2.95,2.8,2.6,2.4,2.3,2.15,2,1.9,1.75,1.5,1,.6,-.65,-.95,-1.05]],[3.64,[3.6,3.4,3.2,3.05,2.8,2.65,2.45,2.3,2.15,2,1.9,1.75,1.45,.9,.1,-.7]],[3.63,[3.7,3.45,3.25,3.1,2.9,2.65,2.5,2.35,2.2,2.05,1.95,1.85,1.6,.65,-.15,-.7,-.9]],[3.62,[3.65,3.5,3.35,3.1,2.95,2.75,2.55,2.4,2.25,2.1,2,1.85,.75,.4,-.05,-.65]],[3.61,[3.7,3.55,3.4,3.25,3,2.75,2.6,2.45,2.3,2.15,2,1.9,-.15,-.85,-1.05]],[3.6,[3.4,3.15,2.9,2.65,2.5,2.35,.7,-.62]],[3.59,[3.75,3.55,3.4,3.25,3.1,2.9,2.7,2.55,2.3,-1.0,-1.15]],[3.58,[3.85,3.65,3.5,3.3,3.1,2.95,2.75,2.6,-.7]],[3.57,[3.75,3.5,3.35,3.2,-.68,-.75,-1]],[3.56,[4.12,3.9,3.7,3.55,3.4,3.2,3,2.7,-.7,-1.15]],[3.55,[4.18,3.85,3.75,3.6,3.45,3.3,3.15,-1.05]],[3.54,[4.16,3.98,3.85,3.7,3.5,-.9]],[3.53,[4.05,3.9,3.8,3.6,3.25,-1.25]],[3.5,[3.15,2.9,-1.2,-1.35,-1.5]],[3.48,[2.72]],[3.46,[2.72,2.6]],[3.44,[3.2]]];
const binaryMain=[[4.66,[.45]],[4.634,[.12]],[4.6,[.2]],[4.58,[.47,-.02]],[4.57,[0,.5,-.05,-.15]],[4.56,[-.15,-.22,-.3,-.71,.5]],[4.55,[.64,-.18,-.3,-.4]],[4.54,[.2,-.25,-.35]],[4.52,[-.3,-.45,.25]],[4.51,[-.42,-.55,-.75]],[4.5,[.1,-.5,-.62,-.72,-1.0]],[4.49,[0,-.48,-.6,-1.0]],[4.48,[-.4,-.55,-.7]],[4.47,[.12,.02,-.4,-.5,-.62,-.72,-1.15]],[4.46,[-.5,-.6,-.7,-.78,-.82]],[4.45,[-.05,-.25,-.55,-.7,-.8,-.9]],[4.44,[-.2,-.3,-.65,-.75,-.85,-1.3]],[4.43,[-.15,-.28,-.72,-.82,-.95,-1.3,-1.2]],[4.42,[-.2,-.35,-.85,-.95,-1.02]],[4.41,[.03,-.38,-.9,-.98,-1.08,-1.42]],[4.4,[-.92,-1,-1.12,-1.3]],[4.39,[-.95,-1.05,-1.15]],[4.38,[-.85,-1.02,-1.1,-1.5]],[4.37,[-.95,-1.1,-1.35,-1.6]],[4.36,[-.9,-1.05,-1.15,-1.55]],[4.35,[-.15,-.95,-1.1,-1.18,-1.42,-1.65]],[4.34,[-.55,-.85,-1,-1.15,-1.22,-1.7]],[4.33,[-.5,-.65,-1.08,-1.18,-1.25,-1.8]],[4.32,[-.6,-.75,-1.12,-1.2,-1.28]],[4.31,[-.9,-1.05,-1.18,-1.25,-1.35]],[4.3,[-.65,-.75,-1.1,-1.2,-1.3,-1.38]],[4.29,[-.78,-1.15,-1.22,-1.32,-1.45]],[4.28,[-.55,-.85,-1.2,-1.28,-1.38,-1.5,-1.75]],[4.27,[-.7,-1.25,-1.33,-1.42,-1.55,-1.65]],[4.26,[-.92,-1.3,-1.38,-1.45,-1.6,-1.8]],[4.25,[-.72,-1.05,-1.32,-1.42,-1.5,-1.6,-2.28]],[4.24,[-.75,-.85,-1.35,-1.45,-1.52,-1.65,-1.85]],[4.23,[-.7,-1.1,-1.4,-1.48,-1.56,-1.7,-1.9]],[4.22,[-1,-1.42,-1.52,-1.6,-1.78,-2]],[4.21,[-1.25,-1.48,-1.58,-1.65,-1.95,-2.1]],[4.2,[-1.28,-1.5,-1.6,-1.7,-1.82,-2.15,-2.3]],[4.19,[-1.32,-1.55,-1.65,-1.78,-2.05,-2.3]],[4.18,[-1.3,-1.42,-1.62,-1.75,-1.85,-2.28]],[4.17,[-1.45,-1.68,-1.8,-1.92,-2.3]],[4.16,[-1,-1.55,-1.75,-1.85,-2.2]],[4.15,[-1.08,-1.6,-1.82,-1.9,-2.1]],[4.14,[-1.12,-1.5,-1.85,-1.92,-2.15]],[4.13,[-1.15,-1.6,-1.88,-2,-2.05]],[4.12,[-1.9,-1.95,-2,-2.1,-2.3]],[4.11,[-1.25,-1.98,-2.05,-2.15,-2.4]],[4.1,[-1.95,-2.05,-2.12,-2.22]],[4.09,[-1.65,-2.1,-2.18,-2.3,-2.4]],[4.08,[-1.72,-2.15,-2.25,-2.35]],[4.07,[-2.2,-2.28,-2.35,-2.45]],[4.06,[-2,-2.3,-2.38,-2.48]],[4.05,[-1.6,-2.35,-2.42,-2.5]],[4.04,[-1.3,-2.4,-2.48]],[4.03,[-1.42,-2.45]],[4.02,[-2.42]],[4,[-1.4]],[3.96,[-.4]],[3.85,[-2.3]],[3.82,[-2.12]]];
const binaryDense=[[3.825,[2.86,2.71,2.62,2.47,2.33,2.24]],[3.815,[2.91,2.77,2.64,2.53,2.41,2.28,2.17]],[3.805,[2.83,2.72,2.58,2.46,2.36,2.22]],[3.795,[2.94,2.81,2.68,2.57,2.43,2.32,2.16]],[3.785,[2.87,2.76,2.63,2.52,2.44,2.27,2.13]],[3.775,[2.91,2.83,2.72,2.61,2.54,2.42,2.31,2.18]],[3.765,[2.86,2.77,2.67,2.59,2.47,2.38,2.26,2.14]],[3.755,[2.97,2.88,2.79,2.71,2.62,2.53,2.44,2.33,2.21]],[3.745,[2.93,2.84,2.75,2.66,2.57,2.48,2.39,2.28,2.17,2.06]],[3.735,[2.89,2.81,2.72,2.64,2.53,2.44,2.33,2.23,2.12,2.04]],[3.725,[2.83,2.73,2.62,2.51,2.41,2.36,2.26,2.14,2.07,1.96]],[3.715,[2.77,2.66,2.47,2.38,2.29,2.21,2.12,2.03,1.97,1.88]],[3.705,[2.58,2.44,2.36,2.27,2.18,2.09,2.01,1.93,1.87]],[3.695,[2.43,2.32,2.24,2.16,2.08,1.99,1.91,1.84]],[3.685,[2.38,2.28,2.19,2.11,2.04,1.96,1.88,1.82]],[3.675,[2.34,2.26,2.17,2.09,2.02,1.94,1.86,1.79]],[3.665,[2.42,2.29,2.21,2.12,2.03,1.97,1.89,1.81]],[3.655,[2.36,2.24,2.13,2.06,1.98,1.91,1.83,1.76]],[3.645,[2.27,2.18,2.09,2.01,1.93,1.85,1.71]],[3.635,[2.33,2.21,2.07,1.96,1.88,1.77,1.62]],[3.625,[2.37,2.23,2.14,2.03,1.92,1.83]],[3.745,[1.67,1.38,1.22,1.07,.93]],[3.732,[1.78,1.63,1.47,1.24,1.05,.88,.81]],[3.722,[1.72,.92,.79]],[3.705,[.82,.71]],[3.685,[1.8,.98,.87]],[3.662,[1.76,1.48,1.29,1.12,.96]],[3.648,[1.68,1.52,1.38,1.2,1.04]],[3.855,[.58,.43,.31,.18]],[3.845,[.67,.52,.38,.26,.13,.03]],[3.835,[.71,.58,.11,.02,-.05]],[3.825,[.76,.07,-.03]],[3.805,[.81,.03,-.06]],[3.785,[.83,.74,.04,-.07]],[3.775,[.79,.68,.56,.41,.27,.14,.02]],[3.765,[.72,.61,.48,.36,.22,.09,-.02]],[3.755,[.63,.52,.41,.28,.16,.05]],[3.745,[.58,.43,.31,.19,.08,-.04]],[3.735,[.34,.21,.11]],[3.725,[-.28,-.38,-.46]],[3.71,[-.22,-.3,-.52,-.44]],[3.69,[-.24,-.54]],[3.67,[-.28,-.37,-.48]],[3.655,[-.33,-.42]],[4.445,[-.62,-.71,-.79]],[4.425,[-.76,-.84,-.91]],[4.405,[-.88,-.95]],[4.385,[-.95,-1.02,-1.08]],[4.365,[-.99,-1.06,-1.12]],[4.345,[-1.04,-1.1,-1.16]],[4.325,[-1.08,-1.13,-1.19,-1.25]],[4.315,[-1.1,-1.16,-1.22,-1.29]],[4.305,[-1.14,-1.2,-1.27,-1.33]],[4.295,[-1.18,-1.25,-1.31,-1.37]],[4.285,[-1.22,-1.29,-1.36,-1.42]],[4.275,[-1.26,-1.33,-1.4]],[4.265,[-1.3,-1.37,-1.44,-1.5]],[4.255,[-1.33,-1.41,-1.48,-1.54]],[4.245,[-1.38,-1.44,-1.51]],[4.235,[-1.41,-1.47,-1.54,-1.6]],[4.225,[-1.45,-1.51,-1.58]],[4.205,[-1.53,-1.6,-1.66]],[4.185,[-1.6,-1.67,-1.74]],[4.165,[-1.7,-1.76,-1.84]],[4.145,[-1.8,-1.87,-1.94]],[4.125,[-1.93,-2,-2.06]],[4.105,[-2.04,-2.11,-2.18]],[4.085,[-2.18,-2.24,-2.31]],[4.075,[-2.26,-2.33,-2.41]],[4.065,[-2.34,-2.42,-2.48]]];

const svg=d3.select("#c");
const panelW=514,panelH=372.8,plotTop=6.5;
const flat=c=>c.flatMap(([t,gs])=>gs.map(g=>[t,g]));
function panel(left,cfg){
  const x=d3.scaleLinear().domain([4.7,3.4]).range([left,left+panelW]);
  const y=d3.scaleLinear().domain([-2.5,5]).range([plotTop+panelH,plotTop]);
  const id="clip"+Math.round(left);
  svg.append("clipPath").attr("id",id).append("rect").attr("x",left).attr("y",plotTop).attr("width",panelW).attr("height",panelH);
  svg.append("rect").attr("x",left).attr("y",plotTop).attr("width",panelW).attr("height",panelH).attr("fill","#eeeeee");
  const line=d3.line().x(d=>x(d[0])).y(d=>y(d[1]));
  const smooth=d3.line().x(d=>x(d[0])).y(d=>y(d[1])).curve(d3.curveCatmullRomClosed);
  const bottom=plotTop+panelH,right=left+panelW;
  const tickG=svg.append("g").attr("class","ticks");
  const ax=(gen,tx,ty)=>{const g=tickG.append("g").attr("transform",`translate(${tx},${ty})`).call(gen);g.select(".domain").remove();g.selectAll("line").attr("stroke","#555").attr("stroke-width",1);return g;};
  ax(d3.axisBottom(x).tickValues(xTicks).tickSize(-7).tickFormat(""),0,bottom);
  ax(d3.axisBottom(x).tickValues(xMinor).tickSize(-4).tickFormat(""),0,bottom);
  ax(d3.axisTop(x).tickValues(xTicks).tickSize(-7).tickFormat(""),0,plotTop);
  ax(d3.axisTop(x).tickValues(xMinor).tickSize(-4).tickFormat(""),0,plotTop);
  ax(d3.axisLeft(y).tickValues(yTicks).tickSize(-10).tickFormat(""),left,0);
  ax(d3.axisLeft(y).tickValues(yMinor).tickSize(-5).tickFormat(""),left,0);
  ax(d3.axisRight(y).tickValues(yTicks).tickSize(-10).tickFormat(""),right,0);
  ax(d3.axisRight(y).tickValues(yMinor).tickSize(-5).tickFormat(""),right,0);
  const plot=svg.append("g").attr("clip-path",`url(#${id})`);
  plot.selectAll("path.lv").data(cfg.levels).join("path").attr("class","lv")
    .attr("d",d=>line(d.p)+"Z").attr("fill",d=>d.f).attr("stroke","#000").attr("stroke-width",d=>d.w).attr("stroke-linejoin","round");
  plot.selectAll("path.ln").data(cfg.lines).join("path").attr("class","ln")
    .attr("d",line).attr("fill","none").attr("stroke","#000").attr("stroke-width",1.5);
  plot.append("path").attr("d",line(cfg.dashed)).attr("fill","none").attr("stroke","#000").attr("stroke-width",1.4).attr("stroke-dasharray","5 3");
  plot.selectAll("circle.st").data(cfg.stars).join("circle").attr("class","st").attr("cx",d=>x(d[0])).attr("cy",d=>y(d[1])).attr("r",1.75)
    .attr("fill","#00e2f5").attr("stroke","#04262e").attr("stroke-width",.7);
  plot.selectAll("circle.dn").data(cfg.dense).join("circle").attr("class","dn").attr("cx",d=>x(d[0])).attr("cy",d=>y(d[1])).attr("r",1.6)
    .attr("fill","#00e8ff").attr("stroke","#04262e").attr("stroke-width",.25);
  plot.selectAll("path.bl").data(cfg.blobs).join("path").attr("class","bl").attr("d",d=>smooth(d)).attr("fill","#00e8ff");
  svg.append("rect").attr("x",left).attr("y",plotTop).attr("width",panelW).attr("height",panelH).attr("fill","none").attr("stroke","#555").attr("stroke-width",1.2);
  const labels=svg.append("g");
  labels.selectAll("text.xl").data(xTicks).join("text").attr("class","xl").attr("x",d=>x(d)).attr("y",402).attr("text-anchor","middle").attr("font-size",15.5).attr("letter-spacing","1").text(d3.format(".1f"));
  labels.selectAll("text.yl").data(yTicks).join("text").attr("class","yl").attr("x",left-7).attr("y",d=>y(d)+5.5).attr("text-anchor","end").attr("font-size",15.5).text(d=>d<0?"\u2212"+(-d):d);
  labels.append("text").attr("x",(left+right)/2).attr("y",421).attr("text-anchor","middle").attr("font-size",15.5).attr("letter-spacing",".9").text("log(T/K)");
  const yt=labels.append("text").attr("transform",`translate(${left-47},${(plotTop+bottom)/2+8}) rotate(-90)`).attr("text-anchor","middle").attr("font-size",15.5).attr("letter-spacing","1");
  yt.append("tspan").text("log(T");yt.append("tspan").attr("font-size",10).attr("dy",-5).text("4");yt.append("tspan").attr("dy",5).text(" / g)");
  labels.append("text").attr("x",x(cfg.noteT)).attr("y",y(-2)).attr("font-size",15.5).attr("letter-spacing","1").attr("word-spacing","3").text(cfg.note);
}
panel(68.8,{levels:singleLevels,lines:singleLines,dashed:singleDashed,blobs:singleBlobs,stars:[...flat(singleLoop),...flat(singleUpper),...flat(singleMain),...flat(singleGiants)],dense:flat(singleDense),note:"Single stars",noteT:3.8});
panel(715.2,{levels:binaryLevels,lines:binaryLines,dashed:binaryDashed,blobs:binaryBlobs,stars:[...flat(binaryUpper),...flat(binaryMain),...flat(binaryGiants)],dense:flat(binaryDense),note:"Binary stars",noteT:3.81});
</script></body></html>
